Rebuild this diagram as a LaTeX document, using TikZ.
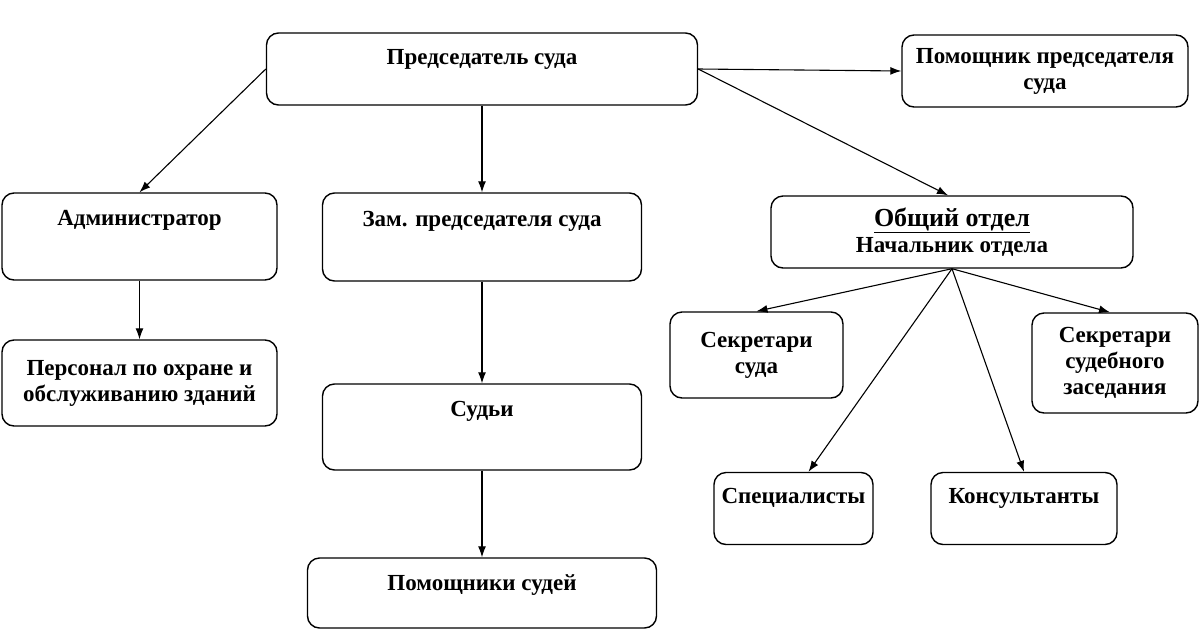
\documentclass[tikz,border=0pt]{standalone}
\usepackage{fontspec}
\setmainfont{Liberation Serif}
\usetikzlibrary{arrows.meta}

\tikzset{
  unit/.style={draw, rounded corners=12pt, line width=1.4pt, align=center,
    font=\fontsize{23}{26}\selectfont\bfseries, inner sep=4pt},
  link/.style={->, line width=1.1pt},
}

\begin{document}
\begin{tikzpicture}[x=1pt,y=-1pt,>={Latex[length=11pt,width=8pt]}]
  \useasboundingbox (0,0) rectangle (1200,630);

  % top row
  \node [unit,minimum width=431pt,minimum height=72pt,text depth=25pt] (chair) at (482,69) {Председатель суда};
  \node [unit,minimum width=286pt,minimum height=72pt] (assistant) at (1045,71) {Помощник председателя\\суда};

  % second row
  \node [unit,minimum width=275pt,minimum height=87pt,text depth=37pt] (admin) at (139.5,236.5) {Администратор};
  \node [unit,minimum width=319pt,minimum height=88pt,text depth=37pt] (deputy) at (482,237) {Зам. председателя суда};
  \node [unit,minimum width=362pt,minimum height=72pt] (office) at (952,232)
    {{\fontsize{26}{30}\selectfont\underline{Общий отдел}}\\Начальник отдела};

  % left and middle columns
  \node [unit,minimum width=275pt,minimum height=86pt] (staff) at (139.5,383) {Персонал по охране и\\обслуживанию зданий};
  \node [unit,minimum width=319pt,minimum height=86pt,text depth=37pt] (judges) at (482,427) {Судьи};
  \node [unit,minimum width=349pt,minimum height=70pt,text depth=21pt] (helpers) at (482,593) {Помощники судей};

  % general office staff
  \node [unit,minimum width=173pt,minimum height=86pt] (clerks) at (756.5,355) {Секретари\\суда};
  \node [unit,minimum width=166pt,minimum height=100pt] (recorders) at (1115,363) {Секретари\\судебного\\заседания};
  \node [unit,minimum width=159pt,minimum height=72pt,text depth=25pt] (experts) at (793.5,508.5) {Специалисты};
  \node [unit,minimum width=186pt,minimum height=72pt,text depth=25pt] (advisers) at (1024,508.5) {Консультанты};

  \draw[link] (chair.west) -- (admin.north);
  \draw[link] (chair.south) -- (deputy.north);
  \draw[link] (chair.east) -- (assistant.west);
  \draw[link] (chair.east) -- ([xshift=-4pt]office.north);
  \draw[link] (admin.south) -- (staff.north);
  \draw[link] (deputy.south) -- (judges.north);
  \draw[link] (judges.south) -- (helpers.north);
  \draw[link] (office.south) -- (clerks.north);
  \draw[link] (office.south) -- ([xshift=-5pt]recorders.north);
  \draw[link] (office.south) -- ([xshift=15pt]experts.north);
  \draw[link] (office.south) -- (advisers.north);
\end{tikzpicture}
\end{document}
